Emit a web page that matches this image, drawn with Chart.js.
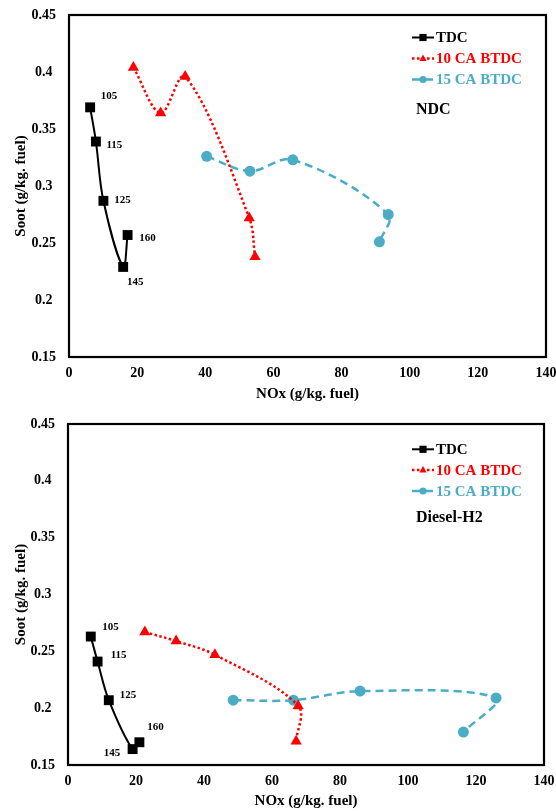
<!DOCTYPE html>
<html>
<head>
<meta charset="utf-8">
<script src="https://cdn.jsdelivr.net/npm/chart.js@4/dist/chart.umd.min.js"></script>
<style>
  html, body { margin: 0; padding: 0; background: #fff; }
  body { width: 556px; height: 811px; position: relative; overflow: hidden; }
  canvas { position: absolute; left: 0; }
</style>
</head>
<body>
<canvas id="chart-ndc" width="556" height="404" style="top:0"></canvas>
<canvas id="chart-h2" width="556" height="404" style="top:407px"></canvas>
<script>
// Tick values and labels (shared by both panels)
const xTicks = [0, 20, 40, 60, 80, 100, 120, 140];
const xTickLabels = ['0', '20', '40', '60', '80', '100', '120', '140'];
const yTicks = [0.15, 0.2, 0.25, 0.3, 0.35, 0.4, 0.45];
const yTickLabels = ['0.15', '0.2', '0.25', '0.3', '0.35', '0.4', '0.45'];

// Series names and TDC point labels
const seriesNames = ['TDC', '10 CA BTDC', '15 CA BTDC'];
const tdcLabels = ['105', '115', '125', '145', '160'];

// NDC panel
const ndcTdcX = [6.2, 7.9, 10.1, 15.9, 17.2];
const ndcTdcY = [0.369, 0.339, 0.287, 0.229, 0.257];
const ndcCa10X = [18.9, 26.9, 34.1, 52.9, 54.6];
const ndcCa10Y = [0.404, 0.364, 0.396, 0.272, 0.238];
const ndcCa15X = [40.4, 53.1, 65.7, 93.7, 91.1];
const ndcCa15Y = [0.326, 0.313, 0.323, 0.275, 0.251];

// Diesel-H2 panel
const h2TdcX = [6.7, 8.7, 12.0, 19.0, 21.0];
const h2TdcY = [0.263, 0.241, 0.207, 0.164, 0.170];
const h2Ca10X = [22.6, 31.8, 43.2, 67.7, 67.1];
const h2Ca10Y = [0.267, 0.259, 0.247, 0.202, 0.171];
const h2Ca15X = [48.6, 66.3, 85.9, 125.9, 116.3];
const h2Ca15Y = [0.207, 0.207, 0.215, 0.209, 0.179];

const FONT = '"Liberation Serif", "Times New Roman", serif';
const BLUE = '#4BACC6';
const RED = '#FF0000';

Chart.defaults.font.family = FONT;
Chart.defaults.font.weight = 'bold';
Chart.defaults.font.size = 14;
Chart.defaults.color = '#000';

function points(xs, ys) {
    return xs.map((x, i) => ({ x: x, y: ys[i] }));
}

// Draws the black box round the plot area
const framePlugin = {
    id: 'frame',
    afterDraw(chart) {
        const a = chart.chartArea;
        const ctx = chart.ctx;
        ctx.save();
        ctx.strokeStyle = '#000';
        ctx.lineWidth = 2.2;
        ctx.strokeRect(a.left, a.top, a.right - a.left, a.bottom - a.top);
        ctx.restore();
    }
};

// Small marker used by the legend
function drawMarker(ctx, style, color, x, y, r) {
    ctx.fillStyle = color;
    ctx.beginPath();
    if (style === 'rect') {
        ctx.rect(x - r, y - r, 2 * r, 2 * r);
    } else if (style === 'triangle') {
        ctx.moveTo(x, y - r * 1.1);
        ctx.lineTo(x + r, y + r * 0.7);
        ctx.lineTo(x - r, y + r * 0.7);
        ctx.closePath();
    } else {
        ctx.arc(x, y, r, 0, Math.PI * 2);
    }
    ctx.fill();
}

// Legend inside the plot area plus the panel caption
const insideLegendPlugin = {
    id: 'insideLegend',
    afterDraw(chart, args, opts) {
        const ctx = chart.ctx;
        ctx.save();
        chart.data.datasets.forEach((ds, i) => {
            const y = opts.rows[i];
            ctx.strokeStyle = ds.borderColor;
            ctx.lineWidth = ds.borderWidth;
            ctx.setLineDash(ds.borderDash || []);
            ctx.beginPath();
            ctx.moveTo(opts.x, y);
            ctx.lineTo(opts.x + 22, y);
            ctx.stroke();
            ctx.setLineDash([]);
            drawMarker(ctx, ds.pointStyle, ds.borderColor, opts.x + 11, y, 3.6);
            ctx.fillStyle = ds.borderColor;
            ctx.font = 'bold 15px ' + FONT;
            ctx.textAlign = 'left';
            ctx.textBaseline = 'middle';
            ctx.fillText(ds.label, opts.x + 24, y + 1);
        });
        ctx.fillStyle = '#000';
        ctx.font = 'bold 16px ' + FONT;
        ctx.fillText(opts.caption, opts.captionX, opts.captionY);
        ctx.restore();
    }
};

// Numbers next to the TDC points
const pointLabelsPlugin = {
    id: 'pointLabels',
    afterDatasetsDraw(chart, args, opts) {
        const meta = chart.getDatasetMeta(0);
        const ctx = chart.ctx;
        ctx.save();
        ctx.fillStyle = '#000';
        ctx.font = 'bold 11px ' + FONT;
        ctx.textAlign = 'center';
        ctx.textBaseline = 'middle';
        meta.data.forEach((pt, i) => {
            const off = opts.offsets[i];
            ctx.fillText(tdcLabels[i], pt.x + off[0], pt.y + off[1]);
        });
        ctx.restore();
    }
};

function makeChart(canvasId, series, layout) {
    const ctx = document.getElementById(canvasId).getContext('2d');
    return new Chart(ctx, {
        type: 'scatter',
        data: {
            datasets: [
                {
                    label: seriesNames[0],
                    data: points(series.tdcX, series.tdcY),
                    showLine: true,
                    borderColor: '#000',
                    backgroundColor: '#000',
                    borderWidth: 2,
                    tension: 0.35,
                    pointStyle: 'rect',
                    pointRadius: 7,
                    pointBorderWidth: 0
                },
                {
                    label: seriesNames[1],
                    data: points(series.ca10X, series.ca10Y),
                    showLine: true,
                    borderColor: RED,
                    backgroundColor: RED,
                    borderWidth: 2.5,
                    borderDash: [2.5, 2.5],
                    tension: 0.35,
                    pointStyle: 'triangle',
                    pointRadius: 6.5,
                    pointBorderWidth: 0
                },
                {
                    label: seriesNames[2],
                    data: points(series.ca15X, series.ca15Y),
                    showLine: true,
                    borderColor: BLUE,
                    backgroundColor: BLUE,
                    borderWidth: 2.5,
                    borderDash: [8, 5],
                    tension: 0.35,
                    pointStyle: 'circle',
                    pointRadius: 5.5,
                    pointBorderWidth: 0
                }
            ]
        },
        options: {
            responsive: false,
            animation: false,
            events: [],
            layout: {
                padding: { top: layout.top, right: layout.right, left: 0, bottom: 0 }
            },
            plugins: {
                legend: { display: false },
                tooltip: { enabled: false },
                insideLegend: {
                    x: 412,
                    rows: layout.legendRows,
                    caption: layout.caption,
                    captionX: 416,
                    captionY: layout.captionY
                },
                pointLabels: { offsets: layout.labelOffsets }
            },
            scales: {
                x: {
                    type: 'linear',
                    min: 0,
                    max: 140,
                    grid: { display: false, drawTicks: false },
                    border: { display: false },
                    afterBuildTicks: function(scale) {
                        scale.ticks = xTicks.map(v => ({ value: v }));
                    },
                    afterFit: function(scale) {
                        scale.height = layout.xAxisHeight;
                        scale.paddingLeft = 0;
                        scale.paddingRight = 0;
                    },
                    ticks: {
                        padding: 8,
                        maxRotation: 0,
                        autoSkip: false,
                        callback: function(value, index) {
                            return xTickLabels[index];
                        }
                    },
                    title: {
                        display: true,
                        text: 'NOx (g/kg. fuel)',
                        font: { size: 15, weight: 'bold' },
                        padding: { top: 0, bottom: 1 }
                    }
                },
                y: {
                    type: 'linear',
                    min: 0.15,
                    max: 0.45,
                    grid: { display: false, drawTicks: false },
                    border: { display: false },
                    afterBuildTicks: function(scale) {
                        scale.ticks = yTicks.map(v => ({ value: v }));
                    },
                    afterFit: function(scale) {
                        scale.width = layout.yAxisWidth;
                        scale.paddingTop = 0;
                        scale.paddingBottom = 0;
                    },
                    ticks: {
                        padding: 13,
                        crossAlign: 'center',
                        autoSkip: false,
                        callback: function(value, index) {
                            return yTickLabels[index];
                        }
                    },
                    title: {
                        display: true,
                        text: 'Soot (g/kg. fuel)',
                        font: { size: 15, weight: 'bold' },
                        padding: { top: 12, bottom: 0 }
                    }
                }
            }
        },
        plugins: [framePlugin, pointLabelsPlugin, insideLegendPlugin]
    });
}

makeChart('chart-ndc', {
    tdcX: ndcTdcX, tdcY: ndcTdcY,
    ca10X: ndcCa10X, ca10Y: ndcCa10Y,
    ca15X: ndcCa15X, ca15Y: ndcCa15Y
}, {
    top: 15,
    right: 10,
    yAxisWidth: 69,
    xAxisHeight: 47,
    legendRows: [37.5, 58.5, 79.5],
    caption: 'NDC',
    captionY: 110,
    labelOffsets: [[19, -11], [18.5, 4], [19, -1], [12, 15], [20, 3]]
});

makeChart('chart-h2', {
    tdcX: h2TdcX, tdcY: h2TdcY,
    ca10X: h2Ca10X, ca10Y: h2Ca10Y,
    ca15X: h2Ca15X, ca15Y: h2Ca15Y
}, {
    top: 17,
    right: 12,
    yAxisWidth: 68,
    xAxisHeight: 46,
    legendRows: [42.3, 63, 84],
    caption: 'Diesel-H2',
    captionY: 110.7,
    labelOffsets: [[19.6, -9], [21, -6], [19.3, -5], [-20.7, 4], [16, -15]]
});
</script>
</body>
</html>
